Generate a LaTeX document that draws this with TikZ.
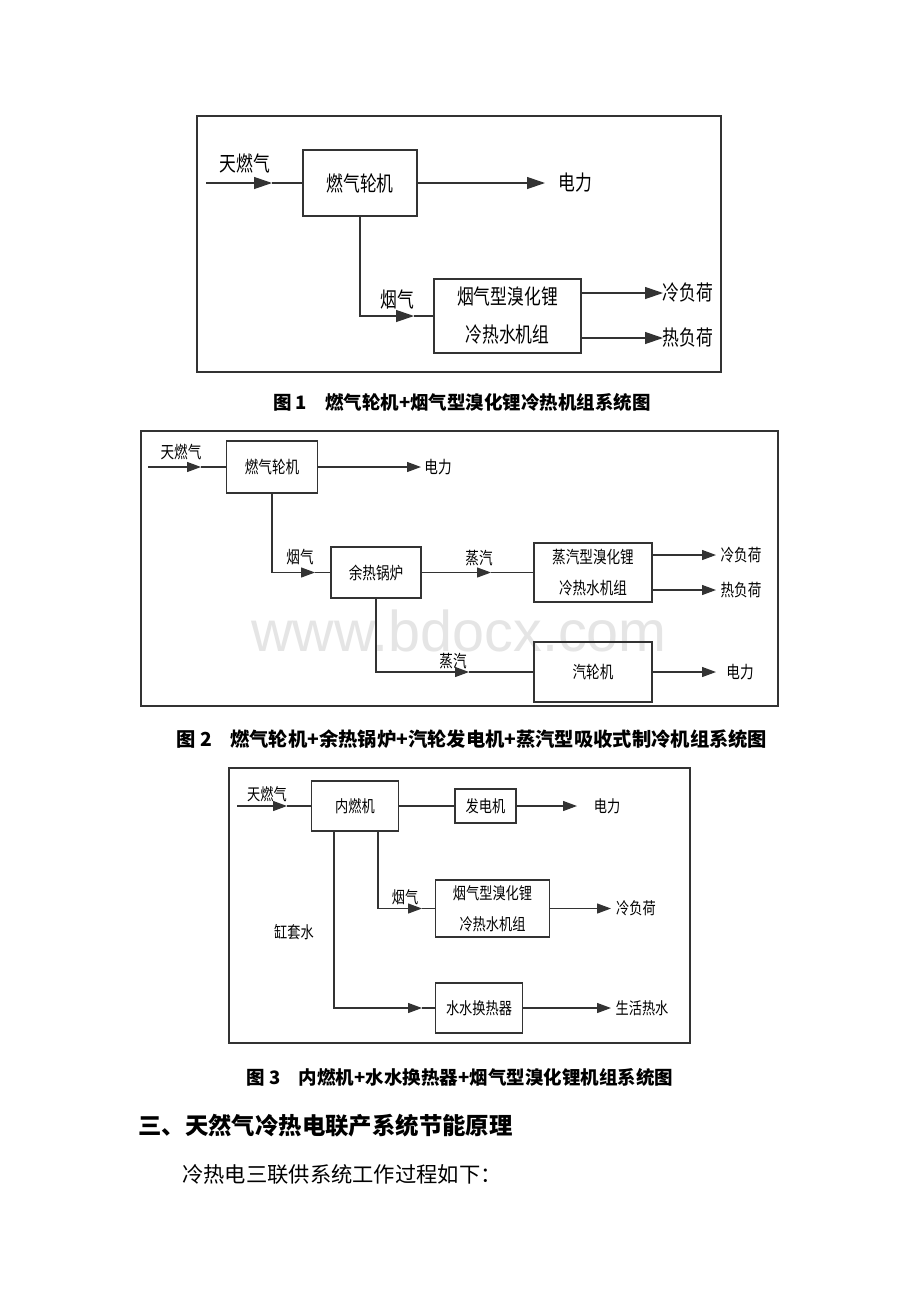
\documentclass[tikz,border=0pt]{standalone}
\usepackage{fontspec}
\newfontfamily\cjk[FakeStretch=0.8]{Noto Sans CJK SC}
\newfontfamily\cjkw{Noto Sans CJK SC}
\newfontfamily\wmfont{Liberation Sans}
\usetikzlibrary{arrows.meta}
\tikzset{
  ln/.style={draw=black!80, line width=1.2pt},
  outerframe/.style={draw=black!80, line width=1.5pt},
  bx/.style={draw=black!80, line width=1.3pt, inner sep=0pt, align=center, text=black},
  ftA/.style={font=\cjk\fontsize{21}{38}\selectfont},
  ftB/.style={font=\cjk\fontsize{17}{31}\selectfont},
  ftC/.style={font=\cjk\fontsize{16.5}{31}\selectfont},
  arA/.style={ln, -{Triangle[length=18pt,width=12pt]}},
  arB/.style={ln, -{Triangle[length=14pt,width=10pt]}},
  lbl/.style={inner sep=0pt, text=black},
  captxt/.style={font=\cjkw\bfseries\fontsize{18.5}{22}\selectfont, inner sep=0pt, text=black},
}
\begin{document}
\begin{tikzpicture}[x=1pt,y=-1pt]
\useasboundingbox[fill=white] (0,0) rectangle (920,1302);

% ================= Figure 1 =================
\draw[outerframe] (197,116) rectangle (721,372);
\node[bx, ftA, minimum width=114pt, minimum height=66pt] (gt1) at (360,183) {燃气轮机};
\node[bx, ftA, minimum width=147pt, minimum height=74pt] (ab1) at (507.5,316) {烟气型溴化锂\\冷热水机组};
\coordinate (in1) at (206,183);
\coordinate (t1a) at (272,183);
\draw[arA] (in1) -- (t1a);
\draw[ln] (t1a) -- (gt1.west);
\node[lbl, ftA] (l1a) at (245,163) {天燃气};
\coordinate (t1b) at (545,183);
\draw[arA] (gt1.east) -- (t1b);
\node[lbl, ftA] (l1b) at (575,183) {电力};
\coordinate (t1c) at (414,316);
\draw[arA] (gt1.south) |- (t1c);
\draw[ln] (t1c) -- (ab1.west);
\node[lbl, ftA] (l1c) at (397,300) {烟气};
\coordinate (t1d) at (663,293);
\draw[arA] (ab1.east |- t1d) -- (t1d);
\node[lbl, ftA] (l1d) at (688,293) {冷负荷};
\coordinate (t1e) at (663,338);
\draw[arA] (ab1.east |- t1e) -- (t1e);
\node[lbl, ftA] (l1e) at (688,338) {热负荷};
\node[captxt] (cap1) at (462,402) {图 1\hspace{18pt}燃气轮机+烟气型溴化锂冷热机组系统图};

% ================= Figure 2 =================
\node[font=\wmfont\fontsize{57.5}{60}\selectfont, text=black!10, inner sep=0pt, anchor=base] (wm) at (459,651) {www.bdocx.com};
\draw[outerframe] (141,431) rectangle (778,706);
\node[bx, ftB, minimum width=91pt, minimum height=52pt] (gt2) at (272,467) {燃气轮机};
\node[bx, ftB, minimum width=90pt, minimum height=51pt] (hr2) at (376,572.5) {余热锅炉};
\node[bx, ftB, minimum width=118pt, minimum height=59pt] (ab2) at (593,572.5) {蒸汽型溴化锂\\冷热水机组};
\node[bx, ftB, minimum width=118pt, minimum height=60pt] (st2) at (593,672) {汽轮机};
\coordinate (in2) at (148,467);
\coordinate (t2a) at (201,467);
\draw[arB] (in2) -- (t2a);
\draw[ln] (t2a) -- (gt2.west);
\node[lbl, ftB] (l2a) at (181,452) {天燃气};
\coordinate (t2b) at (421,467);
\draw[arB] (gt2.east) -- (t2b);
\node[lbl, ftB] (l2b) at (438,467) {电力};
\coordinate (t2c) at (315,572.5);
\draw[arB] (gt2.south) |- (t2c);
\draw[ln] (t2c) -- (hr2.west);
\node[lbl, ftB] (l2c) at (300,557) {烟气};
\coordinate (t2d) at (491,572.5);
\draw[arB] (hr2.east) -- (t2d);
\draw[ln] (t2d) -- (ab2.west);
\node[lbl, ftB] (l2d) at (479,558) {蒸汽};
\coordinate (t2e) at (716,555);
\draw[arB] (ab2.east |- t2e) -- (t2e);
\node[lbl, ftB] (l2e) at (741,555) {冷负荷};
\coordinate (t2f) at (716,590);
\draw[arB] (ab2.east |- t2f) -- (t2f);
\node[lbl, ftB] (l2f) at (741,590) {热负荷};
\coordinate (t2g) at (469,672);
\draw[arB] (hr2.south) |- (t2g);
\draw[ln] (t2g) -- (st2.west);
\node[lbl, ftB] (l2g) at (453,661) {蒸汽};
\coordinate (t2h) at (716,672);
\draw[arB] (st2.east) -- (t2h);
\node[lbl, ftB] (l2h) at (740,672) {电力};
\node[captxt, font=\cjkw\bfseries\fontsize{19.3}{22}\selectfont] (cap2) at (472,739) {图 2\hspace{18pt}燃气轮机+余热锅炉+汽轮发电机+蒸汽型吸收式制冷机组系统图};

% ================= Figure 3 =================
\draw[outerframe] (229,768) rectangle (690,1043);
\node[bx, ftC, minimum width=87pt, minimum height=50pt] (ic3) at (355,806) {内燃机};
\node[bx, ftC, minimum width=61pt, minimum height=34pt] (gn3) at (485.5,806) {发电机};
\node[bx, ftC, minimum width=114pt, minimum height=57pt] (ab3) at (492.5,908.5) {烟气型溴化锂\\冷热水机组};
\node[bx, ftC, minimum width=87.5pt, minimum height=50pt] (hx3) at (479,1008) {水水换热器};
\coordinate (in3) at (237,806);
\coordinate (t3a) at (287,806);
\draw[arB] (in3) -- (t3a);
\draw[ln] (t3a) -- (ic3.west);
\node[lbl, ftC] (l3a) at (267,794) {天燃气};
\draw[ln] (ic3.east) -- (gn3.west);
\coordinate (t3b) at (577,806);
\draw[arB] (gn3.east) -- (t3b);
\node[lbl, ftC] (l3b) at (607,806) {电力};
\coordinate (j3a) at (378,831);
\coordinate (t3c) at (422,908.5);
\draw[arB] (j3a) |- (t3c);
\draw[ln] (t3c) -- (ab3.west);
\node[lbl, ftC] (l3c) at (405,897) {烟气};
\coordinate (t3d) at (611,908.5);
\draw[arB] (ab3.east) -- (t3d);
\node[lbl, ftC] (l3d) at (636,908.5) {冷负荷};
\coordinate (j3b) at (334,831);
\coordinate (t3e) at (422,1008);
\draw[arB] (j3b) |- (t3e);
\draw[ln] (t3e) -- (hx3.west);
\node[lbl, ftC] (l3e) at (294,932) {缸套水};
\coordinate (t3f) at (611,1008);
\draw[arB] (hx3.east) -- (t3f);
\node[lbl, ftC] (l3f) at (642,1008) {生活热水};
\node[captxt] (cap3) at (460,1077) {图 3\hspace{18pt}内燃机+水水换热器+烟气型溴化锂机组系统图};

% ================= Text =================
\node[font=\cjkw\bfseries\fontsize{23.4}{26}\selectfont, anchor=west, inner sep=0pt] (h3) at (138,1126) {三、天然气冷热电联产系统节能原理};
\node[font=\cjkw\fontsize{21.3}{24}\selectfont, anchor=west, inner sep=0pt] (bd) at (182,1174) {冷热电三联供系统工作过程如下：};
\end{tikzpicture}
\end{document}
